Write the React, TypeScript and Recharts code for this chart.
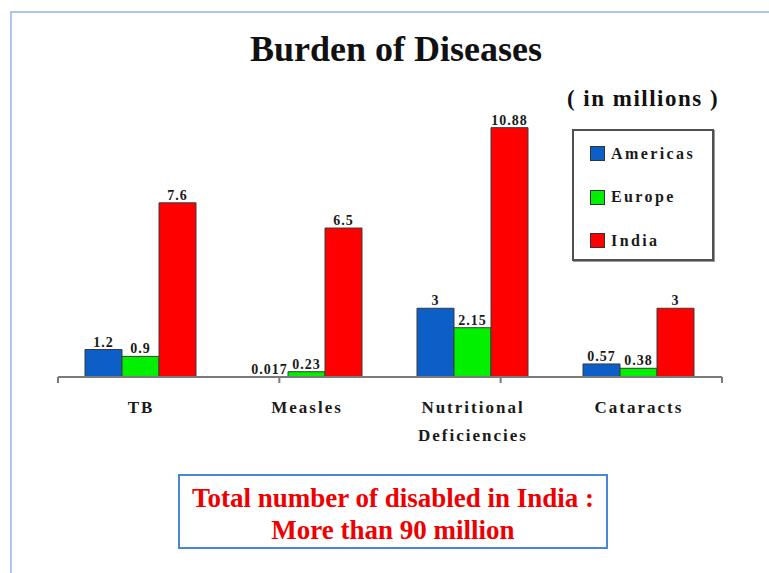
import React from 'react';
import { BarChart, Bar, XAxis, YAxis, LabelList, Legend } from 'recharts';

const categories = ['TB', 'Measles', 'Nutritional Deficiencies', 'Cataracts'];
const americas = [1.2, 0.017, 3, 0.57];
const europe = [0.9, 0.23, 2.15, 0.38];
const india = [7.6, 6.5, 10.88, 3];
const seriesKeys = ['americas', 'europe', 'india'];
const seriesNames = ['Americas', 'Europe', 'India'];
const seriesColors = ['#0b5fc6', '#00f000', '#ff0000'];
const boundaryTicks = [0, 1, 2, 3, 4];
const yDomain = [0, 12];
const titleText = 'Burden of Diseases';
const unitText = '( in millions )';
const noteLines = ['Total number of disabled in India :', 'More than 90 million'];

const data = categories.map((c, i) => ({
  category: c,
  americas: americas[i],
  europe: europe[i],
  india: india[i],
}));

const serif = '"Liberation Serif", "Times New Roman", serif';

const EmptyTick = () => <g />;

const CategoryTick = (props: any) => {
  const { x, y, payload } = props;
  const words: string[] = String(payload.value).split(' ');
  return (
    <text
      x={x}
      y={y}
      textAnchor="middle"
      fontFamily={serif}
      fontWeight="bold"
      fontSize={17}
      letterSpacing={2}
      fill="#1a1a1a"
    >
      {words.map((w, i) => (
        <tspan key={i} x={x} dy={i === 0 ? 33 : 28}>
          {w}
        </tspan>
      ))}
    </text>
  );
};

const LegendContent = (props: any) => {
  const payload = props.payload || [];
  return (
    <div
      style={{
        width: 138,
        height: 128,
        border: '2px solid #505050',
        boxShadow: '1px 1px 0 #999',
        background: '#fff',
        boxSizing: 'content-box',
      }}
    >
      {payload.map((p: any, i: number) => (
        <div
          key={i}
          style={{
            display: 'flex',
            alignItems: 'center',
            height: 43.5,
            marginTop: i === 0 ? 1 : 0,
            paddingLeft: 16,
          }}
        >
          <span
            style={{
              display: 'inline-block',
              width: 13,
              height: 13,
              background: p.color,
              border: '1px solid #333',
              marginRight: 6,
            }}
          />
          <span
            style={{
              fontFamily: serif,
              fontWeight: 'bold',
              fontSize: 16,
              letterSpacing: 2.4,
              color: '#1a1a1a',
            }}
          >
            {p.value}
          </span>
        </div>
      ))}
    </div>
  );
};

export default function App() {
  return (
    <div
      style={{
        position: 'absolute',
        left: 0,
        top: 0,
        width: 769,
        height: 573,
        background: '#fff',
        overflow: 'hidden',
      }}
    >
      <div
        style={{
          position: 'absolute',
          left: 10,
          top: 11,
          width: 800,
          height: 600,
          borderLeft: '2px solid #a9c9ef',
          borderTop: '2px solid #a9c9ef',
        }}
      />
      <div
        style={{
          position: 'absolute',
          left: 196,
          top: 27,
          width: 400,
          textAlign: 'center',
          fontFamily: serif,
          fontWeight: 'bold',
          fontSize: 36,
          lineHeight: '44px',
          color: '#111',
        }}
      >
        {titleText}
      </div>
      <div
        style={{
          position: 'absolute',
          left: 552,
          top: 85,
          width: 182,
          textAlign: 'center',
          fontFamily: serif,
          fontWeight: 'bold',
          fontSize: 23,
          letterSpacing: 1.5,
          lineHeight: '28px',
          color: '#111',
        }}
      >
        {unitText}
      </div>
      <div style={{ position: 'absolute', left: 0, top: 0 }}>
        <BarChart
          width={769}
          height={573}
          data={data}
          margin={{ top: 102, right: 47, bottom: 156, left: 58 }}
          barCategoryGap={27}
          barGap={0}
        >
          <XAxis
            xAxisId={0}
            type="number"
            domain={[0, 4]}
            ticks={boundaryTicks}
            allowDataOverflow
            tick={<EmptyTick />}
            height={1}
            tickSize={6}
            axisLine={{ stroke: '#7a7a7a', strokeWidth: 2 }}
            tickLine={{ stroke: '#7a7a7a', strokeWidth: 2 }}
          />
          <XAxis
            xAxisId={1}
            dataKey="category"
            height={39}
            axisLine={false}
            tickLine={false}
            tickSize={0}
            interval={0}
            tick={<CategoryTick />}
          />
          <YAxis hide domain={yDomain} />
          <Legend
            layout="vertical"
            align="center"
            verticalAlign="middle"
            content={<LegendContent />}
            wrapperStyle={{ left: 572, top: 129, width: 142, height: 132 }}
          />
          {seriesKeys.map((k, i) => (
            <Bar
              key={k}
              xAxisId={1}
              dataKey={k}
              name={seriesNames[i]}
              fill={seriesColors[i]}
              stroke="#3a3a3a"
              strokeWidth={1}
              isAnimationActive={false}
            >
              <LabelList
                dataKey={k}
                position="top"
                offset={3}
                fontFamily={serif}
                fontWeight="bold"
                fontSize={14}
                letterSpacing={1}
                fill="#1a1a1a"
              />
            </Bar>
          ))}
        </BarChart>
      </div>
      <div
        style={{
          position: 'absolute',
          left: 178,
          top: 474,
          width: 430,
          height: 75,
          border: '2px solid #4a86d6',
          textAlign: 'center',
          fontFamily: serif,
          fontWeight: 'bold',
          fontSize: 27,
          lineHeight: '32px',
          color: '#ee0000',
          paddingTop: 6,
          boxSizing: 'border-box',
        }}
      >
        <div>{noteLines[0]}</div>
        <div>{noteLines[1]}</div>
      </div>
    </div>
  );
}
